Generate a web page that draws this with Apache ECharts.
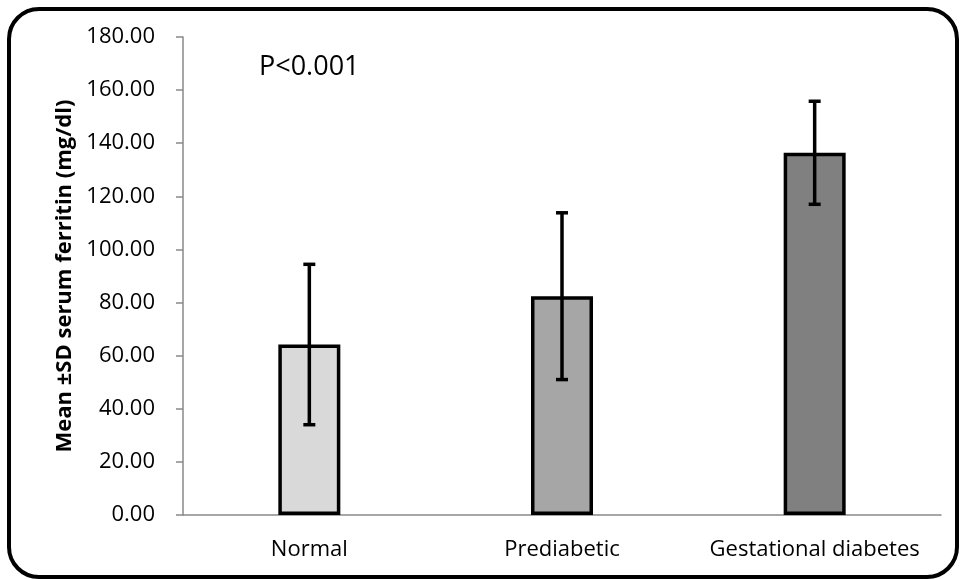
<!DOCTYPE html>
<html><head><meta charset="utf-8">
<script src="https://cdn.jsdelivr.net/npm/echarts@6/dist/echarts.min.js"></script>
<style>html,body{margin:0;padding:0;background:#fff}#c{width:962px;height:579px}</style>
</head><body><div id="c"></div>
<script>
const categories = ['Normal', 'Prediabetic', 'Gestational diabetes'];
const means = [64.2, 82.4, 136.4];
const sds = [30.2, 31.4, 19.4];
const barColors = ['#d9d9d9', '#a6a6a6', '#808080'];
const yTicks = [0, 20, 40, 60, 80, 100, 120, 140, 160, 180];

const chart = echarts.init(document.getElementById('c'));
const font = 'Open Sans, Liberation Sans, sans-serif';
chart.setOption({
  animation: false,
  grid: { left: 183, right: 21, top: 37, bottom: 64 },
  graphic: [
    { type: 'rect', shape: { x: 9, y: 9, width: 948, height: 568, r: 30 },
      style: { fill: 'none', stroke: '#000', lineWidth: 4 }, z: 100 },
    { type: 'text', left: 259, top: 54,
      style: { text: 'P<0.001', font: '27px ' + font, fill: '#000' } }
  ],
  xAxis: {
    type: 'category', data: categories,
    axisLine: { lineStyle: { color: '#898989', width: 1.5 } },
    axisTick: { show: false },
    axisLabel: { color: '#000', fontSize: 22, fontFamily: font, margin: 24, interval: 0, hideOverlap: false }
  },
  yAxis: {
    type: 'value', min: yTicks[0], max: yTicks[yTicks.length - 1], interval: yTicks[1] - yTicks[0],
    name: 'Mean ±SD serum ferritin (mg/dl)', nameLocation: 'middle', nameGap: 87,
    nameTextStyle: { color: '#000', fontSize: 22, fontWeight: 'bold', fontFamily: font },
    axisLine: { show: true, lineStyle: { color: '#898989', width: 1.5 } },
    axisTick: { show: true, length: 7, lineStyle: { color: '#898989', width: 1.5 } },
    splitLine: { show: false },
    axisLabel: { color: '#000', fontSize: 22, fontFamily: font, margin: 28,
      formatter: v => v.toFixed(2) }
  },
  series: [
    {
      type: 'bar', barWidth: 62,
      data: means.map((v, i) => ({ value: v, itemStyle: { color: barColors[i] } })),
      itemStyle: { borderColor: '#000', borderWidth: 3.5 }
    },
    {
      type: 'custom', z: 10,
      data: means.map((m, i) => [i, m - sds[i], m + sds[i]]),
      renderItem: function (params, api) {
        const lo = api.coord([api.value(0), api.value(1)]);
        const hi = api.coord([api.value(0), api.value(2)]);
        const cap = 6;
        const st = { stroke: '#000', lineWidth: 3.5, fill: 'none' };
        return { type: 'group', children: [
          { type: 'line', shape: { x1: lo[0], y1: lo[1], x2: hi[0], y2: hi[1] }, style: st },
          { type: 'line', shape: { x1: lo[0] - cap, y1: lo[1], x2: lo[0] + cap, y2: lo[1] }, style: st },
          { type: 'line', shape: { x1: hi[0] - cap, y1: hi[1], x2: hi[0] + cap, y2: hi[1] }, style: st }
        ]};
      }
    }
  ]
});
</script></body></html>
